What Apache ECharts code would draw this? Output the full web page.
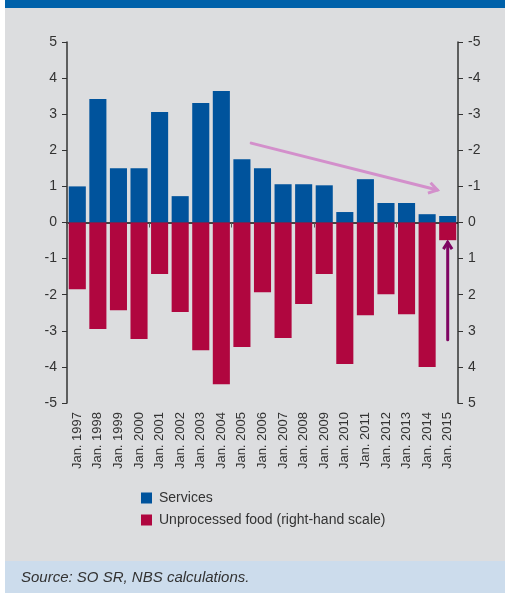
<!DOCTYPE html>
<html>
<head>
<meta charset="utf-8">
<script src="https://cdn.jsdelivr.net/npm/echarts@6/dist/echarts.min.js"></script>
<style>
  html, body { margin: 0; padding: 0; background: #ffffff; }
  #main { width: 505px; height: 593px; }
</style>
</head>
<body>
<div id="main"></div>
<script>
// categories
var years = ['Jan. 1997', 'Jan. 1998', 'Jan. 1999', 'Jan. 2000', 'Jan. 2001', 'Jan. 2002', 'Jan. 2003',
  'Jan. 2004', 'Jan. 2005', 'Jan. 2006', 'Jan. 2007', 'Jan. 2008', 'Jan. 2009', 'Jan. 2010',
  'Jan. 2011', 'Jan. 2012', 'Jan. 2013', 'Jan. 2014', 'Jan. 2015'];
// services (left scale)
var services = [1.0, 3.42, 1.5, 1.5, 3.06, 0.73, 3.31, 3.64, 1.75, 1.5, 1.06, 1.06, 1.03, 0.29, 1.2, 0.54, 0.54, 0.23, 0.18];
// unprocessed food (right scale, inverted)
var food = [1.85, 2.95, 2.43, 3.23, 1.43, 2.48, 3.54, 4.48, 3.45, 1.93, 3.2, 2.26, 1.43, 3.92, 2.57, 1.99, 2.54, 4.0, 0.49];
// arrows: [x from, y from, x to, y to] in category index / left-scale units
var trendArrow = [8.45, 2.2, 17.5, 0.9];
var foodArrow = [18, -3.25, 18, -0.55];

var seriesNames = ['Services', 'Unprocessed food (right-hand scale)'];
var axisFont = 'Liberation Sans';

var myChart = echarts.init(document.getElementById('main'), null, { renderer: 'canvas' });

var arrowColors = ['#d38fcb', '#7e0562'];
var arrowHead = [10, 8];

var option = {
  animation: false,
  backgroundColor: '#ffffff',
  graphic: [
    { type: 'rect', left: 5, top: 0, shape: { width: 500, height: 8 }, style: { fill: '#0061aa' }, z: -10 },
    { type: 'rect', left: 5, top: 8, shape: { width: 500, height: 553 }, style: { fill: '#dcdddf' }, z: -10 },
    { type: 'rect', left: 5, top: 561, shape: { width: 500, height: 32 }, style: { fill: '#ccdcec' }, z: -10 },
    {
      type: 'text', left: 21, top: 570,
      style: { text: 'Source: SO SR, NBS calculations.', fill: '#333333', font: 'italic 15px "Liberation Sans"' }
    }
  ],
  grid: { left: 67, right: 47, top: 42, bottom: 190 },
  legend: {
    data: seriesNames,
    orient: 'vertical',
    left: 136,
    top: 486,
    icon: 'rect',
    itemWidth: 11,
    itemHeight: 11,
    itemGap: 8,
    textStyle: { fontFamily: 'Liberation Sans', fontSize: 14, color: '#333333', padding: [0, 0, 0, 2] }
  },
  xAxis: [
    {
      type: 'category',
      data: years,
      position: 'top',
      axisLine: { show: true, onZero: true, lineStyle: { color: '#111111', width: 1.5 } },
      axisTick: { show: true, inside: true, length: 5, lineStyle: { color: '#555555' } },
      axisLabel: { show: false },
      splitLine: { show: false }
    },
    {
      type: 'category',
      data: years,
      position: 'bottom',
      axisLine: { show: false, onZero: false },
      axisTick: { show: false },
      axisLabel: { rotate: 90, margin: 9, fontFamily: axisFont, fontSize: 13, color: '#333333', interval: 0 },
      splitLine: { show: false }
    },
    {
      type: 'value',
      min: -0.5,
      max: 18.5,
      show: false,
      axisLine: { onZero: false }
    }
  ],
  yAxis: [
    {
      type: 'value',
      position: 'left',
      min: -5,
      max: 5,
      interval: 1,
      axisLine: { show: true, onZero: false, lineStyle: { color: '#333333', width: 1.5 } },
      axisTick: { show: true, length: 5, lineStyle: { color: '#333333' } },
      axisLabel: { margin: 10, fontFamily: axisFont, fontSize: 14, color: '#333333' },
      splitLine: { show: false }
    },
    {
      type: 'value',
      position: 'right',
      inverse: true,
      min: -5,
      max: 5,
      interval: 1,
      axisLine: { show: true, onZero: false, lineStyle: { color: '#333333', width: 1.5 } },
      axisTick: { show: true, length: 5, lineStyle: { color: '#333333' } },
      axisLabel: { margin: 10, fontFamily: axisFont, fontSize: 14, color: '#333333' },
      splitLine: { show: false }
    }
  ],
  series: [
    {
      name: seriesNames[0],
      type: 'bar',
      xAxisIndex: 0,
      yAxisIndex: 0,
      data: services,
      barWidth: '83%',
      barGap: '-100%',
      itemStyle: { color: '#00539c' },
      z: 2
    },
    {
      name: seriesNames[1],
      type: 'bar',
      xAxisIndex: 0,
      yAxisIndex: 1,
      data: food,
      barWidth: '83%',
      barGap: '-100%',
      itemStyle: { color: '#b0063f' },
      z: 2
    },
    {
      type: 'custom',
      xAxisIndex: 2,
      yAxisIndex: 0,
      silent: true,
      z: 5,
      data: [trendArrow, foodArrow],
      renderItem: function (params, api) {
        var p1 = api.coord([api.value(0), api.value(1)]);
        var p2 = api.coord([api.value(2), api.value(3)]);
        var a = Math.atan2(p2[1] - p1[1], p2[0] - p1[0]);
        var L = arrowHead[params.dataIndex];
        var th = Math.PI / 5.5;
        var h1 = [p2[0] - L * Math.cos(a - th), p2[1] - L * Math.sin(a - th)];
        var h2 = [p2[0] - L * Math.cos(a + th), p2[1] - L * Math.sin(a + th)];
        var color = arrowColors[params.dataIndex];
        return {
          type: 'group',
          children: [
            { type: 'line', shape: { x1: p1[0], y1: p1[1], x2: p2[0], y2: p2[1] },
              style: { stroke: color, lineWidth: 3, lineCap: 'round' } },
            { type: 'polyline', shape: { points: [h1, p2, h2] },
              style: { stroke: color, lineWidth: 3, fill: null, lineJoin: 'miter' } }
          ]
        };
      }
    }
  ]
};

myChart.setOption(option);
</script>
</body>
</html>
